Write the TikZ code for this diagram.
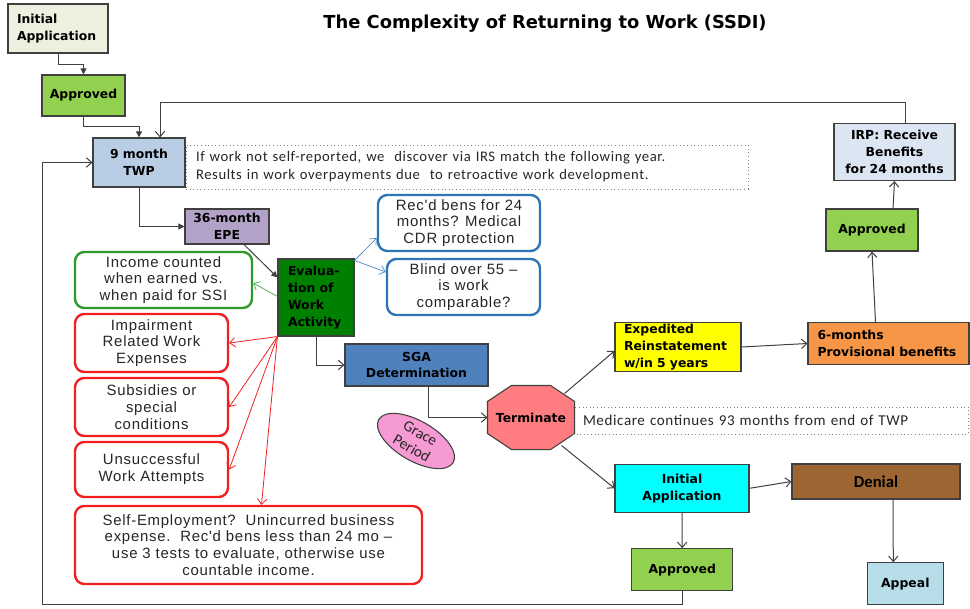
\documentclass[tikz,border=0pt]{standalone}
\usepackage{fontspec}
\usetikzlibrary{arrows.meta,shapes.geometric,calc,backgrounds}
\newfontfamily\lblf{DejaVu Sans}
\newfontfamily\rndf{Liberation Sans}[LetterSpace=5]
\newfontfamily\notef{Carlito}[LetterSpace=4]
\newfontfamily\plainf{Carlito}
\newcommand\pxu[1]{#1*0.75pt}
\definecolor{iabg}{HTML}{EBF1DE}
\definecolor{apgreen}{HTML}{92D050}
\definecolor{twpblue}{HTML}{B9CDE5}
\definecolor{epepurple}{HTML}{B3A2C7}
\definecolor{evalgreen}{HTML}{008000}
\definecolor{sgablue}{HTML}{4F81BD}
\definecolor{termred}{HTML}{FF7C80}
\definecolor{gracepink}{HTML}{F59AD2}
\definecolor{expyellow}{HTML}{FFFF00}
\definecolor{sixorange}{HTML}{F79646}
\definecolor{iacyan}{HTML}{00FFFF}
\definecolor{denbrown}{HTML}{9C6531}
\definecolor{appealblue}{HTML}{B7DDE8}
\definecolor{irpblue}{HTML}{DCE6F2}
\definecolor{rgreen}{HTML}{2E9A2E}
\definecolor{rred}{HTML}{F02020}
\definecolor{rblue}{HTML}{2E75B6}
\definecolor{edge}{HTML}{404040}
\definecolor{txt}{HTML}{262626}
\tikzset{
  sq/.style={draw=edge, line width=0.8pt, inner sep=0pt, text=black,
    font={\lblf\bfseries\fontsize{9.3}{12.6}\selectfont}},
  rb/.style={draw, rounded corners=7pt, line width=1.8pt, inner sep=0pt,
    align=center, fill=white, text=txt,
    font={\rndf\fontsize{11.2}{12.6}\selectfont}},
  notebox/.style={draw=gray, dotted, line width=0.7pt, inner sep=0pt,
    align=left, text=txt},
  arr/.style={draw=edge, line width=0.75pt, -{Straight Barb[length=4pt,width=7pt]}},
  tri/.style={draw=edge, line width=0.75pt, -{Triangle[length=4.5pt,width=4.5pt]}},
  carr/.style={line width=0.6pt, -{Straight Barb[length=4pt,width=7pt]}}
}
\begin{document}
\begin{tikzpicture}[x=0.75pt,y=-0.75pt]
\useasboundingbox (0,0) rectangle (970,609);

% title
\node[font={\lblf\bfseries\fontsize{13.4}{16}\selectfont}, text=black] (title) at (545,24) {The Complexity of Returning to Work (SSDI)};

% notes
\node[notebox, minimum width=\pxu{562}, minimum height=\pxu{44}, text width=\pxu{542},
  font={\notef\fontsize{11}{13.5}\selectfont}] (n1) at (467,167)
  {If work not self-reported, we\ \ discover via IRS match the following year.\\Results in work overpayments due\ \ to retroactive work development.};
\node[notebox, minimum width=\pxu{395}, minimum height=\pxu{27}, text width=\pxu{375},
  font={\notef\fontsize{11.3}{13.5}\selectfont}] (n2) at (770.5,420.5)
  {Medicare continues 93 months from end of TWP};

% square boxes
\node[sq, fill=iabg, minimum width=\pxu{100}, minimum height=\pxu{49}, text width=\pxu{82}, align=left] (ia1) at (58,28.5) {Initial\\Application};
\node[sq, fill=apgreen, minimum width=\pxu{83}, minimum height=\pxu{41}, align=center] (ap1) at (83.5,95.5) {Approved};
\node[sq, fill=twpblue, minimum width=\pxu{92}, minimum height=\pxu{49}, align=center] (twp) at (139,162.5) {9 month\\TWP};
\node[sq, fill=epepurple, minimum width=\pxu{84}, minimum height=\pxu{35}, align=center] (epe) at (227,226.5) {36-month\\EPE};
\node[sq, fill=evalgreen, minimum width=\pxu{76}, minimum height=\pxu{77}, text width=\pxu{56}, align=left, font={\lblf\bfseries\fontsize{9.3}{12.9}\selectfont}] (eval) at (316,297.5) {Evalua-\\tion of\\Work\\Activity};
\node[sq, fill=sgablue, minimum width=\pxu{143}, minimum height=\pxu{42}, align=center] (sga) at (416.5,365) {SGA\\Determination};
\node[sq, draw=none, minimum width=\pxu{86}, minimum height=\pxu{63}] (term) at (531,417.5) {Terminate};
\begin{scope}[on background layer]
\draw[fill=termred, draw=edge, line width=0.8pt]
  ([xshift=\pxu{24}]term.north west) -- ([xshift=-\pxu{24}]term.north east)
  -- ([yshift=-\pxu{16}]term.north east) -- ([yshift=\pxu{16}]term.south east)
  -- ([xshift=-\pxu{24}]term.south east) -- ([xshift=\pxu{24}]term.south west)
  -- ([yshift=\pxu{16}]term.south west) -- ([yshift=-\pxu{16}]term.north west) -- cycle;
\end{scope}
\node[ellipse, draw=edge, line width=0.8pt, fill=gracepink, minimum width=\pxu{86}, minimum height=\pxu{40}, inner sep=0pt, rotate=-30, align=center, text=txt,
  font={\plainf\fontsize{11.5}{13}\selectfont}] (grace) at (416,441) {Grace\\Period};
\node[sq, fill=expyellow, minimum width=\pxu{126}, minimum height=\pxu{49}, text width=\pxu{108}, align=left] (exp) at (678,347) {Expedited\\Reinstatement\\w/in 5 years};
\node[sq, fill=sixorange, minimum width=\pxu{161}, minimum height=\pxu{42}, text width=\pxu{142}, align=left] (six) at (888.5,343.5) {6-months\\Provisional benefits};
\node[sq, fill=apgreen, minimum width=\pxu{92}, minimum height=\pxu{42}, align=center] (ap3) at (872,230) {Approved};
\node[sq, fill=irpblue, minimum width=\pxu{121}, minimum height=\pxu{57}, align=center] (irp) at (894.5,152) {IRP: Receive\\Benefits\\for 24 months};
\node[sq, fill=iacyan, minimum width=\pxu{134}, minimum height=\pxu{48}, align=center] (ia2) at (682,488.3) {Initial\\Application};
\node[sq, fill=denbrown, minimum width=\pxu{168}, minimum height=\pxu{35}, align=center, font={\plainf\bfseries\fontsize{12.5}{14}\selectfont}] (den) at (876,481.5) {Denial};
\node[sq, fill=apgreen, minimum width=\pxu{101}, minimum height=\pxu{42}, align=center] (ap4) at (682.2,569.7) {Approved};
\node[sq, fill=appealblue, minimum width=\pxu{76}, minimum height=\pxu{42}, align=center] (appeal) at (905.3,583.7) {Appeal};

% rounded boxes
\node[rb, draw=rgreen, minimum width=\pxu{177}, minimum height=\pxu{56}] (inc) at (163.5,280) {Income counted\\when earned vs.\\when paid for SSI};
\node[rb, draw=rblue, minimum width=\pxu{162}, minimum height=\pxu{56}] (rec) at (459,223) {Rec'd bens for 24\\months? Medical\\CDR protection};
\node[rb, draw=rblue, minimum width=\pxu{153}, minimum height=\pxu{56}] (blind) at (463.5,287) {Blind over 55 –\\is work\\comparable?};
\node[rb, draw=rred, minimum width=\pxu{153}, minimum height=\pxu{58}] (irwe) at (151.5,343) {Impairment\\Related Work\\Expenses};
\node[rb, draw=rred, minimum width=\pxu{153}, minimum height=\pxu{58}] (subs) at (151.5,407) {Subsidies or\\special\\conditions};
\node[rb, draw=rred, minimum width=\pxu{153}, minimum height=\pxu{55}] (uwa) at (151.5,469.5) {Unsuccessful\\Work Attempts};
\node[rb, draw=rred, minimum width=\pxu{347}, minimum height=\pxu{78}] (self) at (248.5,545) {Self-Employment?\ \ Unincurred business\\expense.\ \ Rec'd bens less than 24 mo –\\use 3 tests to evaluate, otherwise use\\countable income.};

% waypoints
\coordinate (loopT) at (160,103);
\coordinate (loopB) at (42,604);

% connectors
\draw[tri] (ia1.south) -- ++(0,11) -| (ap1.north);
\draw[tri] (ap1.south) -- ++(0,10) -| (twp.north);
\draw[arr] ([xshift=\pxu{11}]irp.north) |- (loopT) -- ([xshift=\pxu{21}]twp.north);
\draw[arr] (ap4.south) |- (loopB) |- (twp.west);
\draw[tri] (twp.south) |- (epe.west);
\draw[tri] ([xshift=\pxu{17}]epe.south) -- ([yshift=-\pxu{19}]eval.north west);
\draw[carr, draw=rgreen!80!white] ([yshift=\pxu{1}]eval.west) -- ([yshift=-\pxu{3}]inc.east);
\draw[carr, draw=rblue!80!white] ([yshift=-\pxu{2}]eval.north east) -- ([yshift=-\pxu{15}]rec.west);
\draw[carr, draw=rblue!80!white] ([yshift=-\pxu{2}]eval.north east) -- ([yshift=\pxu{15}]blind.west);
\draw[carr, draw=rred] (eval.south west) -- (irwe.east);
\draw[carr, draw=rred] (eval.south west) -- (subs.east);
\draw[carr, draw=rred] (eval.south west) -- (uwa.east);
\draw[carr, draw=rred] (eval.south west) -- ([xshift=\pxu{13}]self.north);
\draw[arr] (eval.south) |- (sga.west);
\draw[arr] ([xshift=\pxu{12}]sga.south) |- (term.west);
\draw[arr] ($(term.north east)+(-10,8)$) -- ([yshift=\pxu{-4}]exp.west);
\draw[arr] ($(term.south east)+(-13,-4)$) -- ([yshift=\pxu{0}]ia2.west);
\draw[arr] (exp.east) -- (six.west);
\draw[arr] ([xshift=-\pxu{13}]six.north) -- (ap3.south);
\draw[arr] ([xshift=\pxu{21}]ap3.north) -- (irp.south);
\draw[arr] (ia2.east) -- (den.west);
\draw[arr] (ia2.south) -- (ap4.north);
\draw[arr] ([xshift=\pxu{17}]den.south) -- ([xshift=-\pxu{12}]appeal.north);
\end{tikzpicture}
\end{document}
